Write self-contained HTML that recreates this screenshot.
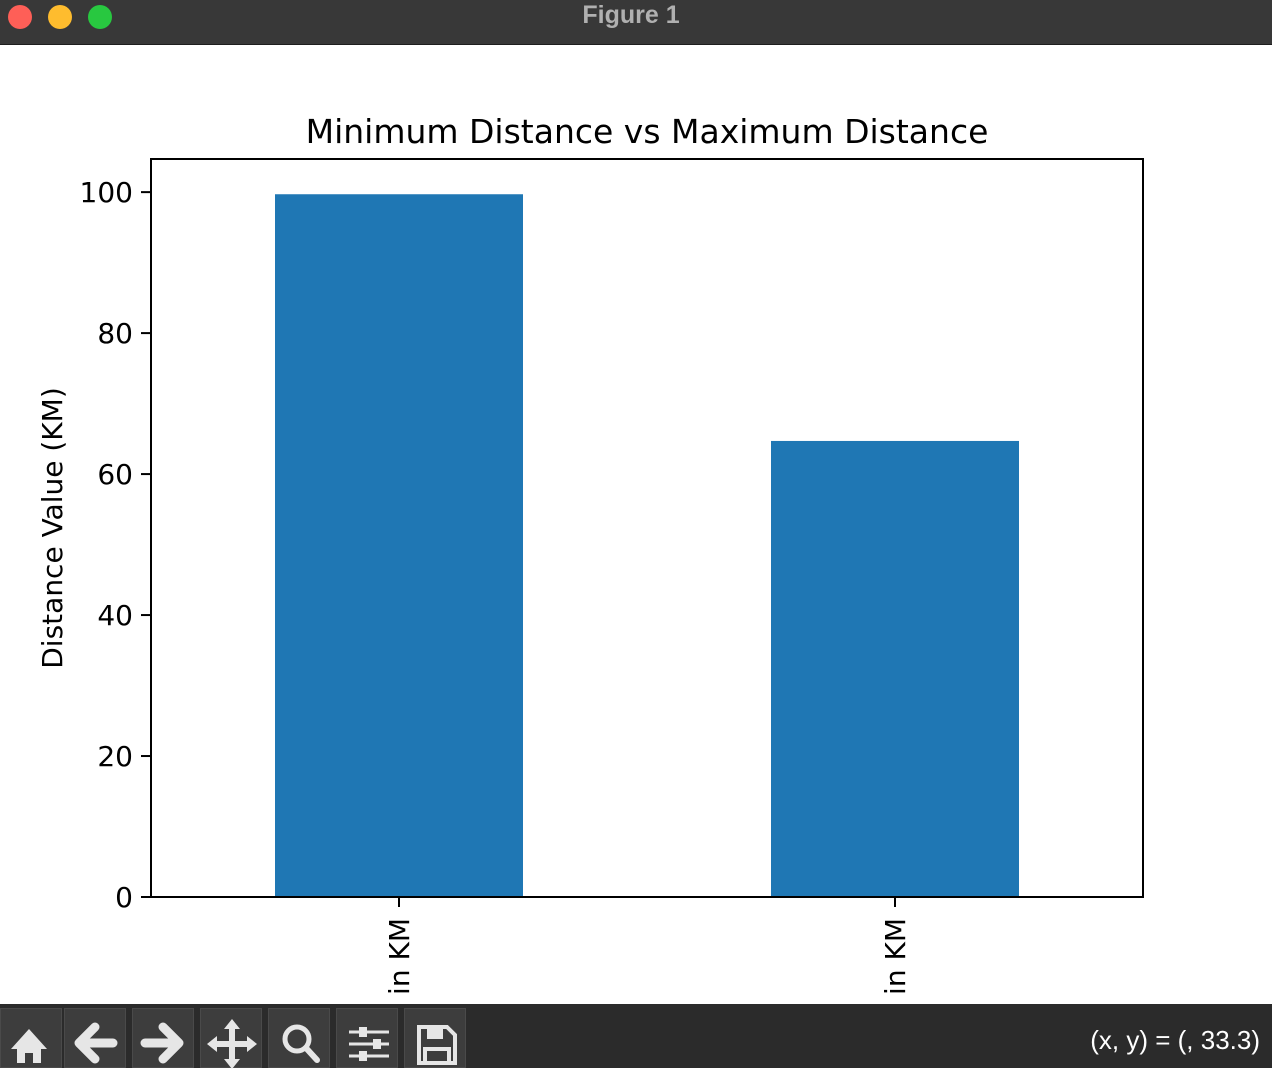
<!DOCTYPE html>
<html><head><meta charset="utf-8"><style>
body{margin:0;width:1272px;height:1068px;overflow:hidden;background:#fff;font-family:"DejaVu Sans","Liberation Sans",sans-serif;position:relative}
.tb{position:absolute;left:0;top:0;width:1272px;height:44px;background:#383838;border-bottom:1px solid #1e1e1e}
.dot{position:absolute;top:5px;width:24px;height:24px;border-radius:50%}
.tool{position:absolute;top:1004px;left:0;width:1272px;height:64px;background:#2b2b2b}
.btn{position:absolute;top:4px;width:62px;height:60px;background:#3d3d3d;border:1px solid #4a4a4a;box-sizing:border-box}
</style></head><body>
<div class="tb">
<div class="dot" style="left:8px;background:#fe5f57"></div>
<div class="dot" style="left:48px;background:#febc2e"></div>
<div class="dot" style="left:88px;background:#28c840"></div>
<div style="position:absolute;left:0;width:1262px;top:1px;text-align:center;color:#b0b0b0;font:bold 25px 'Liberation Sans',sans-serif">Figure 1</div>
</div>
<svg id="chart" width="1272" height="1068" style="position:absolute;left:0;top:0"></svg>
<div class="tool">
<div class="btn" style="left:0"><svg width="60" height="60"><path d="M10 40 L28 20 L46 40 L40 40 L40 54 L32 54 L32 44 L24 44 L24 54 L16 54 L16 40Z" fill="#e6e6e6"/></svg></div>
<div class="btn" style="left:64px"><svg width="60" height="60"><path d="M14 34 L30 18 M14 34 L30 50 M16 34 L48 34" stroke="#e6e6e6" stroke-width="9" stroke-linecap="round" fill="none"/></svg></div>
<div class="btn" style="left:132px"><svg width="60" height="60"><path d="M46 34 L30 18 M46 34 L30 50 M44 34 L12 34" stroke="#e6e6e6" stroke-width="9" stroke-linecap="round" fill="none"/></svg></div>
<div class="btn" style="left:200px"><svg width="60" height="60"><path d="M31 16V54M12 35H50" stroke="#e6e6e6" stroke-width="6"/><path d="M31 10L23 20H39Z M31 60L23 50H39Z M6 35L16 27V43Z M56 35L46 27V43Z" fill="#e6e6e6"/></svg></div>
<div class="btn" style="left:268px"><svg width="60" height="60"><circle cx="28" cy="30" r="12" stroke="#e6e6e6" stroke-width="5" fill="none"/><path d="M37 39L48 51" stroke="#e6e6e6" stroke-width="6" stroke-linecap="round"/></svg></div>
<div class="btn" style="left:336px"><svg width="60" height="60"><path d="M12 23H52M12 35H52M12 47H52" stroke="#e6e6e6" stroke-width="3"/><rect x="22" y="18" width="8" height="10" fill="#e6e6e6"/><rect x="36" y="30" width="8" height="10" fill="#e6e6e6"/><rect x="22" y="42" width="8" height="10" fill="#e6e6e6"/></svg></div>
<div class="btn" style="left:404px"><svg width="60" height="60"><path d="M14 18H42L50 26V54H14Z" stroke="#e6e6e6" stroke-width="4" fill="none"/><rect x="22" y="18" width="16" height="12" fill="#e6e6e6"/><rect x="20" y="40" width="24" height="14" stroke="#e6e6e6" stroke-width="4" fill="none"/></svg></div>
<div style="position:absolute;right:12px;top:21px;color:#fff;font:26px 'Liberation Sans',sans-serif">(x, y) = (, 33.3)</div>
</div>
<script>
const categories=["in KM","in KM"];
const values=[99.7,64.7];
const yTicks=[0,20,40,60,80,100];
const NS="http://www.w3.org/2000/svg",svg=document.getElementById("chart");
const L=151,R=1143,T=159,B=897,ymax=104.7;
const y=v=>B-(v/ymax)*(B-T);
const band=(R-L)/categories.length;
const x=i=>L+band*(i+0.5);
const F="DejaVu Sans, Liberation Sans, sans-serif";
function mk(t,a,txt){const e=document.createElementNS(NS,t);for(const k in a)e.setAttribute(k,a[k]);if(txt!==undefined)e.textContent=txt;svg.appendChild(e);return e;}
values.forEach((v,i)=>{const r=mk("rect",{x:x(i)-band/4,y:y(v),width:band/2,height:B-y(v),fill:"#1f77b4"});


const tk=mk("line",{x1:x(i),x2:x(i),y1:B,y2:B+10,stroke:"#000","stroke-width":2});


const lb=mk("text",{x:0,y:0,transform:`translate(${x(i)+10},${B+21}) rotate(-90)`,"text-anchor":"end","font-size":"28","font-family":F},categories[i]);

});
yTicks.forEach(t=>{const tk=mk("line",{x1:L-10,x2:L,y1:y(t),y2:y(t),stroke:"#000","stroke-width":2});


const lb=mk("text",{x:L-18,y:y(t)+10,"text-anchor":"end","font-size":"28","font-family":F},t);

});
const fr=mk("rect",{x:L,y:T,width:R-L,height:B-T,fill:"none",stroke:"#000","stroke-width":2});


const ti=mk("text",{x:(L+R)/2,y:143,"text-anchor":"middle","font-size":"33","font-family":F},"Minimum Distance vs Maximum Distance");


const yl=mk("text",{x:0,y:0,transform:`translate(62,${(T+B)/2}) rotate(-90)`,"text-anchor":"middle","font-size":"28","font-family":F},"Distance Value (KM)");


</script>
</body></html>
